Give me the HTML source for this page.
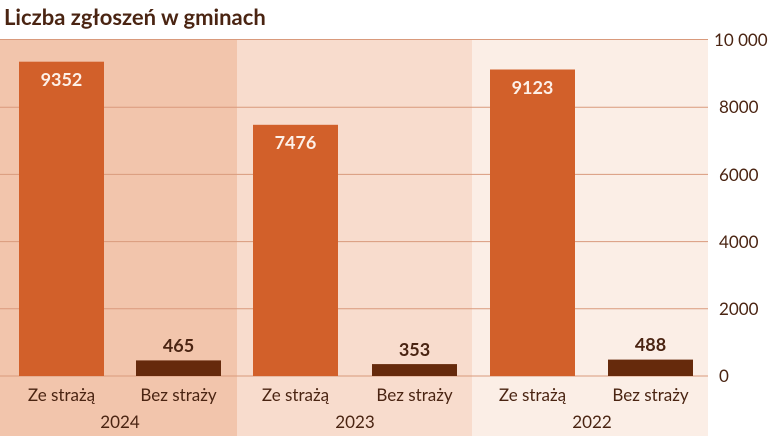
<!DOCTYPE html>
<html><head><meta charset="utf-8"><style>
body{margin:0;background:#fff;}
svg{display:block;font-family:"Lato","Liberation Sans",sans-serif;}
</style></head><body>
<svg width="780" height="436" viewBox="0 0 780 436" xmlns="http://www.w3.org/2000/svg">
<text x="4" y="25" font-size="22" font-weight="bold" fill="#4a2412">Liczba zgłoszeń w gminach</text>
<rect x="0" y="39" width="237" height="397" fill="#f2c5ac"/>
<rect x="237" y="39" width="235" height="397" fill="#f8dccd"/>
<rect x="472" y="39" width="236" height="397" fill="#fbeee6"/>
<g stroke="#d99a7c" stroke-width="1">
<line x1="0" x2="708" y1="39.5" y2="39.5"/>
<line x1="0" x2="708" y1="107.2" y2="107.2"/>
<line x1="0" x2="708" y1="174.4" y2="174.4"/>
<line x1="0" x2="708" y1="241.6" y2="241.6"/>
<line x1="0" x2="708" y1="308.8" y2="308.8"/>
<line x1="0" x2="708" y1="376" y2="376"/>
</g>
<g fill="#d2602a">
<rect x="19" y="61.7" width="85" height="314.3"/>
<rect x="253" y="124.8" width="85" height="251.2"/>
<rect x="490" y="69.5" width="85" height="306.5"/>
</g>
<g fill="#662a0c">
<rect x="136" y="360.4" width="85" height="15.6"/>
<rect x="372" y="364.1" width="85" height="11.9"/>
<rect x="608" y="359.6" width="85" height="16.4"/>
</g>
<g font-size="18" font-weight="bold" text-anchor="middle">
<text x="61.5" y="86" fill="#fdf0e8">9352</text>
<text x="295.5" y="149" fill="#fdf0e8">7476</text>
<text x="532.5" y="94" fill="#fdf0e8">9123</text>
<text x="178.5" y="352" fill="#4a2412">465</text>
<text x="414.5" y="356" fill="#4a2412">353</text>
<text x="650.5" y="351" fill="#4a2412">488</text>
</g>
<g font-size="17" fill="#4a2412" text-anchor="middle">
<text x="61.5" y="401">Ze strażą</text>
<text x="178.5" y="401">Bez straży</text>
<text x="295.5" y="401">Ze strażą</text>
<text x="414.5" y="401">Bez straży</text>
<text x="532.5" y="401">Ze strażą</text>
<text x="650.5" y="401">Bez straży</text>
<text x="120" y="428">2024</text>
<text x="355" y="428">2023</text>
<text x="592" y="428">2022</text>
</g>
<g font-size="17" fill="#4a2412">
<text x="714" y="46">10 000</text>
<text x="719" y="113">8000</text>
<text x="719" y="181">6000</text>
<text x="719" y="248">4000</text>
<text x="719" y="315">2000</text>
<text x="719" y="382">0</text>
</g>
</svg>
</body></html>
